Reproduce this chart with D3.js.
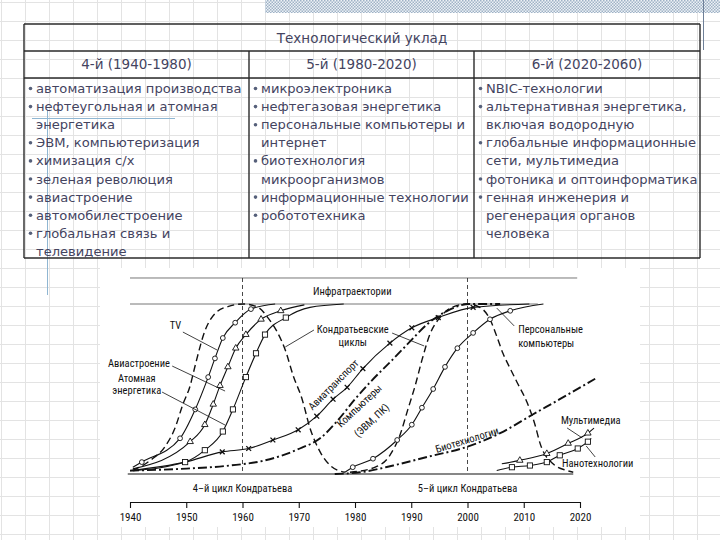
<!DOCTYPE html>
<html>
<head>
<meta charset="utf-8">
<script src="https://cdn.jsdelivr.net/npm/d3@7"></script>
<style>
  body { margin: 0; background: #fff; }
  svg { display: block; }
</style>
</head>
<body>
<svg id="page" width="720" height="540"></svg>
<script>
// ---- table data ----
const tableTitle = 'Технологический уклад';
const periods = ['4-й (1940-1980)', '5-й (1980-2020)', '6-й (2020-2060)'];
const items4 = [
  ['автоматизация производства'],
  ['нефтеугольная и атомная', 'энергетика'],
  ['ЭВМ, компьютеризация'],
  ['химизация с/х'],
  ['зеленая революция'],
  ['авиастроение'],
  ['автомобилестроение'],
  ['глобальная связь и', 'телевидение']
];
const items5 = [
  ['микроэлектроника'],
  ['нефтегазовая энергетика'],
  ['персональные компьютеры и', 'интернет'],
  ['биотехнология', 'микроорганизмов'],
  ['информационные технологии'],
  ['робототехника']
];
const items6 = [
  ['NBIC-технологии'],
  ['альтернативная энергетика,', 'включая водородную'],
  ['глобальные информационные', 'сети, мультимедиа'],
  ['фотоника и оптоинформатика'],
  ['генная инженерия и', 'регенерация органов', 'человека']
];

// ---- chart data: [year, level (0..1 of saturation), marker?] ----
const years = [1940, 1950, 1960, 1970, 1980, 1990, 2000, 2010, 2020];
const kondratiev4 = [[1940.5,0.02],[1943.6,0.08],[1946.2,0.16],[1948,0.27],[1949.4,0.41],[1950.7,0.52],[1951.6,0.64],[1953.3,0.84],[1955.3,0.95],[1957.4,0.985],[1960.1,1],[1962.8,0.98],[1964.5,0.92],[1966.1,0.84],[1967.6,0.73],[1969,0.58],[1970.6,0.44],[1972,0.27],[1973.8,0.13],[1975.6,0.05],[1978.2,0.01]];
const kondratiev5 = [[1979.1,0.01],[1983.6,0.04],[1986.2,0.11],[1988,0.23],[1989.4,0.38],[1990.7,0.52],[1991.9,0.67],[1993.3,0.82],[1995.1,0.92],[1997.2,0.98],[1999.9,1],[2002.2,0.98],[2004,0.91],[2005.2,0.81],[2006.3,0.71],[2007.6,0.62],[2008.8,0.54],[2010.6,0.42],[2012,0.29],[2012.9,0.18],[2015.2,0.06],[2017.7,0.02],[2018.8,0.01]];
const tv = [[1940.5,0.04,0],[1942.1,0.07,1],[1948.9,0.21,1],[1951.6,0.38,1],[1953.9,0.57,1],[1955.1,0.68,1],[1956.5,0.8,1],[1958.7,0.89,1],[1961.5,0.97,1],[1965.8,1,0]];
const aviation = [[1940.5,0.03,0],[1950.7,0.19,1],[1953.3,0.29,1],[1954.8,0.41,1],[1956,0.52,1],[1957.4,0.63,1],[1958.8,0.74,1],[1960.6,0.82,1],[1963.3,0.91,1],[1966.8,0.96,1],[1971,0.995,0]];
const nuclear = [[1940.5,0.02,0],[1949.8,0.07,1],[1953.3,0.14,1],[1956.5,0.25,1],[1958.3,0.38,1],[1960.6,0.57,1],[1962.4,0.71,1],[1964,0.82,1],[1967.7,0.92,1],[1972,0.98,0],[1978,1,0]];
const airTransport = [[1940,0.02,0],[1949.8,0.07,0],[1956.4,0.13,1],[1961.1,0.15,1],[1965.4,0.2,1],[1969.9,0.26,1],[1973.2,0.34,1],[1976.1,0.44,1],[1978.6,0.51,1],[1981.4,0.62,1],[1986.2,0.77,1],[1990.1,0.86,1],[1994.8,0.92,1],[2001,0.98,1],[2011,1,0]];
const computers = [[1940,0.02],[1948.9,0.03],[1957.8,0.05],[1964,0.08],[1970.2,0.15],[1973.8,0.21],[1976.8,0.31],[1980,0.44],[1982.7,0.54],[1986.6,0.67],[1989.8,0.78],[1992.8,0.88],[1996.4,0.96],[2000.4,1],[2005.8,1]];
const pcs = [[1978.2,0.01,0],[1979.6,0.04,1],[1983.2,0.09,1],[1987.5,0.2,1],[1990.1,0.29,1],[1991.9,0.39,1],[1993.9,0.5,1],[1996,0.63,1],[1998.2,0.74,1],[2001,0.83,1],[2004,0.91,1],[2007.6,0.96,1],[2013.5,1,0]];
const biotech = [[1976.4,0],[1980.9,0.01],[1986.8,0.05],[1992.8,0.1],[1999.9,0.16],[2005.8,0.24],[2011.6,0.35],[2016.4,0.44],[2022.7,0.56]];
const multimedia = [[2006.1,0.06,0],[2009.3,0.08,1],[2014.1,0.12,1],[2017.9,0.18,1],[2021.4,0.24,1],[2022.5,0.27,0]];
const nanotech = [[2005.2,0.02,0],[2007.9,0.04,1],[2011.1,0.05,1],[2014.1,0.07,1],[2016.4,0.11,1],[2019.6,0.15,1],[2021.4,0.19,1],[2022,0.21,0]];

const svg = d3.select('#page');

// ---- slide background: faint squared paper ----
const grid = svg.append('g').attr('stroke', '#e3e3e3').attr('stroke-width', 1);
for (let gx = 1; gx < 720; gx += 24) {
  grid.append('line').attr('x1', gx + 0.5).attr('x2', gx + 0.5).attr('y1', 0).attr('y2', 540);
}
for (let gy = 2; gy < 540; gy += 19) {
  grid.append('line').attr('x1', 0).attr('x2', 720).attr('y1', gy + 0.5).attr('y2', gy + 0.5);
}

const defs = svg.append('defs');
const pat = defs.append('pattern').attr('id', 'hatch')
  .attr('width', 3).attr('height', 3).attr('patternUnits', 'userSpaceOnUse');
pat.append('rect').attr('width', 3).attr('height', 3).attr('fill', '#eef2f6');
pat.append('rect').attr('width', 1.5).attr('height', 1.5).attr('fill', '#9fb2c6');
pat.append('rect').attr('x', 1.5).attr('y', 1.5).attr('width', 1.5).attr('height', 1.5).attr('fill', '#9fb2c6');
svg.append('rect').attr('x', 265).attr('y', 0).attr('width', 455).attr('height', 13).attr('fill', 'url(#hatch)');

svg.append('line').attr('x1', 703.5).attr('x2', 703.5).attr('y1', 0).attr('y2', 50).attr('stroke', '#6f8098');
svg.append('line').attr('x1', 47.5).attr('x2', 47.5).attr('y1', 110).attr('y2', 295).attr('stroke', '#8fb6d2');
svg.append('line').attr('x1', 32).attr('x2', 175).attr('y1', 118.5).attr('y2', 118.5).attr('stroke', '#8fb6d2');

// ---- table ----
const tLeft = 24, tRight = 700, cols = [24, 249, 474, 700];
const rows = [24, 51, 78, 258];
const textColor = '#44445f';
const tableFont = '"DejaVu Sans", Verdana, sans-serif';
const table = svg.append('g');

rows.forEach(r => table.append('line')
  .attr('x1', tLeft).attr('x2', tRight).attr('y1', r).attr('y2', r)
  .attr('stroke', '#2a2a2a').attr('stroke-width', 1.4));
[tLeft, tRight].forEach(c => table.append('line')
  .attr('x1', c).attr('x2', c).attr('y1', rows[0]).attr('y2', rows[3])
  .attr('stroke', '#2a2a2a').attr('stroke-width', 1.4));
[cols[1], cols[2]].forEach(c => table.append('line')
  .attr('x1', c).attr('x2', c).attr('y1', rows[1]).attr('y2', rows[3])
  .attr('stroke', '#2a2a2a').attr('stroke-width', 1.4));

table.append('text').attr('x', (tLeft + tRight) / 2).attr('y', 43)
  .attr('text-anchor', 'middle').attr('font-family', tableFont).attr('font-size', 13.5)
  .attr('fill', textColor).text(tableTitle);

periods.forEach((p, i) => table.append('text')
  .attr('x', (cols[i] + cols[i + 1]) / 2).attr('y', 69)
  .attr('text-anchor', 'middle').attr('font-family', tableFont).attr('font-size', 13.5)
  .attr('fill', textColor).text(p));

[items4, items5, items6].forEach((items, ci) => {
  let line = 0;
  const x0 = cols[ci] + 5;
  items.forEach(item => {
    item.forEach((t, k) => {
      const y = 93 + line * 18.1;
      if (k === 0) {
        table.append('circle').attr('cx', x0 + 1.5).attr('cy', y - 4.5).attr('r', 1.8).attr('fill', '#56607a');
      }
      table.append('text').attr('x', x0 + 7).attr('y', y)
        .attr('font-family', tableFont).attr('font-size', 13.1)
        .attr('fill', textColor).text(t);
      line++;
    });
  });
});

// ---- chart ----
svg.append('rect').attr('x', 100).attr('y', 268).attr('width', 540).attr('height', 259).attr('fill', '#fff');
const chart = svg.append('g');
const chartFont = '"Liberation Sans Narrow", "Arial Narrow", "Roboto Condensed", "DejaVu Sans Condensed", sans-serif';

const x = d3.scaleLinear().domain([1940, 2020]).range([130, 580]);
const y = d3.scaleLinear().domain([0, 1]).range([474, 304]);

// frame lines at the top
chart.append('line').attr('x1', x(1940)).attr('x2', x(2019.5)).attr('y1', y(1.153)).attr('y2', y(1.153))
  .attr('stroke', '#777').attr('stroke-width', 1);
chart.append('line').attr('x1', x(1940)).attr('x2', x(2012.5)).attr('y1', y(1)).attr('y2', y(1))
  .attr('stroke', '#777').attr('stroke-width', 1);
chart.append('line').attr('x1', x(1939.6)).attr('x2', x(2018.8)).attr('y1', y(0)).attr('y2', y(0))
  .attr('stroke', '#111').attr('stroke-width', 1.1);
[1960, 2000].forEach(yr => chart.append('line')
  .attr('x1', x(yr)).attr('x2', x(yr)).attr('y1', y(1.153)).attr('y2', y(0))
  .attr('stroke', '#333').attr('stroke-width', 0.9).attr('stroke-dasharray', '4,3'));

const line = d3.line().x(d => x(d[0])).y(d => y(d[1])).curve(d3.curveMonotoneX);

function drawCurve(data, style) {
  chart.append('path').datum(data).attr('d', line)
    .attr('fill', 'none').attr('stroke', '#111')
    .attr('stroke-width', style.width)
    .attr('stroke-dasharray', style.dash || null);
}
const dashed = { width: 1.4, dash: '7,4' };
const dashDot = { width: 1.9, dash: '9,3,2,3' };
const solid = { width: 1.1 };

drawCurve(kondratiev4, dashed);
drawCurve(kondratiev5, dashed);
drawCurve(computers, dashDot);
drawCurve(biotech, dashDot);
[tv, aviation, nuclear, airTransport, pcs, multimedia, nanotech].forEach(s => drawCurve(s, solid));

function drawMarkers(data, kind) {
  const pts = data.filter(d => d[2]);
  const g = chart.append('g').attr('fill', '#fff').attr('stroke', '#111').attr('stroke-width', 0.9);
  pts.forEach(d => {
    const px = x(d[0]), py = y(d[1]);
    if (kind === 'circle') {
      g.append('circle').attr('cx', px).attr('cy', py).attr('r', 2.4);
    } else if (kind === 'square') {
      g.append('rect').attr('x', px - 2.6).attr('y', py - 2.6).attr('width', 5.2).attr('height', 5.2);
    } else if (kind === 'triangle') {
      g.append('path').attr('d', d3.symbol(d3.symbolTriangle, 18)()).attr('transform', `translate(${px},${py})`);
    } else {
      g.append('path').attr('d', 'M-2.4,-2.4L2.4,2.4M-2.4,2.4L2.4,-2.4')
        .attr('transform', `translate(${px},${py})`).attr('stroke-width', 1.3);
    }
  });
}
drawMarkers(tv, 'circle');
drawMarkers(aviation, 'triangle');
drawMarkers(nuclear, 'square');
drawMarkers(airTransport, 'cross');
drawMarkers(pcs, 'circle');
drawMarkers(multimedia, 'triangle');
drawMarkers(nanotech, 'square');

// annotations: [text, year, level, anchor, rotation]
const labels = [
  ['Инфратраектории', 1979.5, 1.053, 'middle', 0],
  ['TV', 1949.1, 0.853, 'end', 0],
  ['Авиастроение', 1947.1, 0.629, 'end', 0],
  ['Атомная', 1941.2, 0.541, 'middle', 0],
  ['энергетика', 1941.2, 0.471, 'middle', 0],
  ['Кондратьевские', 1979.6, 0.829, 'middle', 0],
  ['циклы', 1979.6, 0.753, 'middle', 0],
  ['Персональные', 2009, 0.829, 'start', 0],
  ['компьютеры', 2009, 0.747, 'start', 0],
  ['Мультимедиа', 2016.6, 0.294, 'start', 0],
  ['Нанотехнологии', 2016.8, 0.041, 'start', 0],
  ['Авиатранспорт', 1976.6, 0.51, 'middle', -45],
  ['Компьютеры', 1981.2, 0.385, 'middle', -43],
  ['(ЭВМ, ПК)', 1983.4, 0.3, 'middle', -43],
  ['Биотехнологии', 2000.1, 0.18, 'middle', -17],
  ['4–й цикл Кондратьева', 1960, -0.106, 'middle', 0],
  ['5–й цикл Кондратьева', 2000, -0.106, 'middle', 0]
];
labels.forEach(([t, yr, lv, anchor, rot]) => {
  chart.append('text')
    .attr('transform', `translate(${x(yr)},${y(lv)}) rotate(${rot})`)
    .attr('text-anchor', anchor)
    .attr('font-family', chartFont).attr('font-size', 10.5)
    .attr('fill', '#111').text(t);
});

// leader lines: [year1, level1, year2, level2]
const leaders = [
  [1949.4, 0.835, 1955.5, 0.729],
  [1947.5, 0.635, 1956.9, 0.488],
  [1945.7, 0.482, 1956.9, 0.288],
  [1972.7, 0.847, 1967.6, 0.747],
  [1986.6, 0.829, 1992.3, 0.753],
  [2008.3, 0.871, 2005.2, 0.976],
  [2017.7, 0.271, 2020.4, 0.212],
  [2021.1, 0.165, 2022.7, 0.1]
];
leaders.forEach(([a, b, c, d]) => chart.append('line')
  .attr('x1', x(a)).attr('y1', y(b)).attr('x2', x(c)).attr('y2', y(d))
  .attr('stroke', '#111').attr('stroke-width', 0.8));

// time axis
const axis = chart.append('g').attr('transform', 'translate(0,502)')
  .call(d3.axisBottom(x).tickValues(years).tickFormat(d3.format('d')).tickSize(6).tickSizeOuter(0).tickPadding(5));
axis.select('.domain').attr('stroke', '#111').attr('stroke-width', 1.1);
axis.selectAll('.tick line').attr('stroke', '#111').attr('stroke-width', 1.1);
axis.selectAll('text').attr('font-family', chartFont).attr('font-size', 11).attr('fill', '#111');
</script>
</body>
</html>
